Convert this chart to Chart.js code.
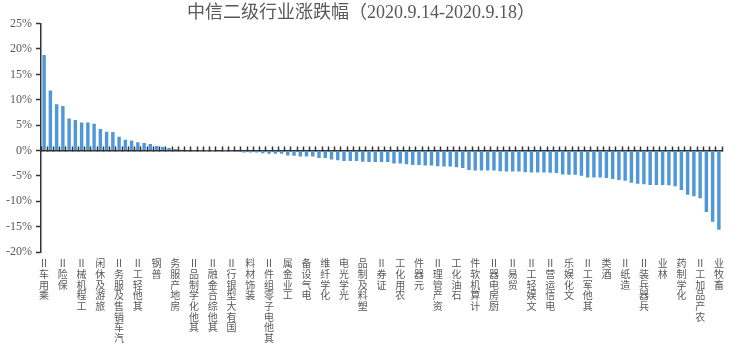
<!DOCTYPE html>
<html>
<head>
<meta charset="utf-8">
<script src="https://cdn.jsdelivr.net/npm/chart.js@4/dist/chart.umd.min.js"></script>
<style>
  body { margin: 0; background: #fff; }
</style>
</head>
<body>
<canvas id="chart" width="731" height="351"></canvas>
<script>
// labels shown under every third bar
const industryLabels = [
  "乘用车Ⅱ", "保险Ⅱ", "工程机械Ⅱ", "旅游及休闲", "汽车销售及服务Ⅱ", "其他轻工Ⅱ",
  "普钢", "房地产服务", "其他化学制品Ⅱ", "其他综合金融Ⅱ", "国有大型银行Ⅱ", "装饰材料",
  "其他电子零组件Ⅱ", "工业金属", "电气设备", "化学纤维", "光学光电", "塑料及制品",
  "证券Ⅱ", "农用化工", "元器件", "资产管理Ⅱ", "石油化工", "计算机软件",
  "厨房电器Ⅱ", "贸易Ⅱ", "文娱轻工Ⅱ", "电信运营Ⅱ", "文化娱乐", "其他军工Ⅱ",
  "酒类", "造纸Ⅱ", "兵器兵装Ⅱ", "林业", "化学制药", "农产品加工Ⅱ", "畜牧业"
];

// weekly change, %, one value per industry (109)
const weeklyChange = [
  18.8, 11.8, 9.1, 8.75, 6.3, 6.0, 5.5, 5.5, 5.25, 4.25,
  3.7, 3.65, 2.7, 2.1, 1.95, 1.6, 1.5, 1.3, 0.9, 0.75,
  0.5, 0.3, 0.15, 0.1, 0.06, 0.04, 0.02, 0.01, 0, -0.02,
  -0.05, -0.26, -0.4, -0.4, -0.4, -0.53, -0.66, -0.66, -0.66, -1.0,
  -1.05, -1.2, -1.2, -1.2, -1.5, -1.5, -1.8, -1.9, -2.05, -2.05,
  -2.05, -2.2, -2.25, -2.25, -2.25, -2.25, -2.55, -2.55, -2.7, -2.85,
  -2.85, -2.95, -2.95, -3.1, -3.15, -3.15, -3.3, -3.45, -3.85, -3.95,
  -3.95, -3.95, -3.95, -4.1, -4.15, -4.15, -4.15, -4.3, -4.35, -4.35,
  -4.35, -4.4, -4.45, -4.75, -4.8, -4.8, -5.0, -5.3, -5.3, -5.3,
  -5.4, -5.6, -5.8, -5.95, -6.35, -6.55, -6.65, -6.8, -6.8, -6.8,
  -6.85, -7.05, -7.8, -8.7, -9.0, -9.4, -12.1, -14.05, -15.6
];

const yTicks = { min: -20, max: 25, step: 5 };

const labelStep = 3;
const categories = weeklyChange.map((v, i) =>
  i % labelStep === 0 ? industryLabels[i / labelStep] : ""
);

const textColor = "#595959";
const axisColor = "#333333";

new Chart(document.getElementById("chart"), {
  type: "bar",
  data: {
    labels: categories,
    datasets: [
      {
        data: weeklyChange,
        backgroundColor: "#5097D8",
        barPercentage: 0.55,
        categoryPercentage: 1,
        xAxisID: "x",
      },
    ],
  },
  options: {
    responsive: false,
    animation: false,
    layout: { padding: { left: 0, right: 9, top: 0, bottom: 0 } },
    plugins: {
      legend: { display: false },
      tooltip: { enabled: false },
      title: {
        display: true,
        text: "中信二级行业涨跌幅（2020.9.14-2020.9.18）",
        color: textColor,
        font: { family: "'Liberation Serif', 'Noto Sans CJK SC'", size: 18, weight: "normal" },
        padding: { top: 2, bottom: 0 },
      },
    },
    scales: {
      x: {
        type: "category",
        position: "bottom",
        offset: true,
        border: { display: false },
        grid: { display: false, drawTicks: false },
        ticks: {
          autoSkip: false,
          maxRotation: 0,
          minRotation: 0,
          padding: 6,
          color: textColor,
          font: { family: "'Noto Sans CJK SC'", size: 10, lineHeight: 1.07 },
          // stack characters, reading bottom to top
          callback: function (value) {
            const lbl = this.getLabelForValue(value);
            return lbl ? Array.from(lbl).reverse() : "";
          },
        },
        afterFit: (scale) => { scale.height = 99; },
      },
      x2: {
        type: "category",
        position: { y: 0 },
        offset: true,
        border: { display: true, color: axisColor, width: 1.5 },
        grid: {
          offset: true,
          drawOnChartArea: false,
          drawTicks: true,
          tickLength: -5,
          tickColor: axisColor,
          tickWidth: 1.5,
        },
        ticks: { display: false },
      },
      y: {
        min: yTicks.min,
        max: yTicks.max,
        border: { display: true, color: axisColor, width: 1.5 },
        grid: {
          drawOnChartArea: false,
          drawTicks: true,
          tickLength: 5,
          tickColor: axisColor,
          tickWidth: 1.5,
        },
        ticks: {
          stepSize: yTicks.step,
          padding: 4,
          color: textColor,
          font: { family: "'Liberation Serif'", size: 12 },
          callback: (v) => v + "%",
        },
        afterFit: (scale) => { scale.width = 41; },
      },
    },
  },
});
</script>
</body>
</html>
